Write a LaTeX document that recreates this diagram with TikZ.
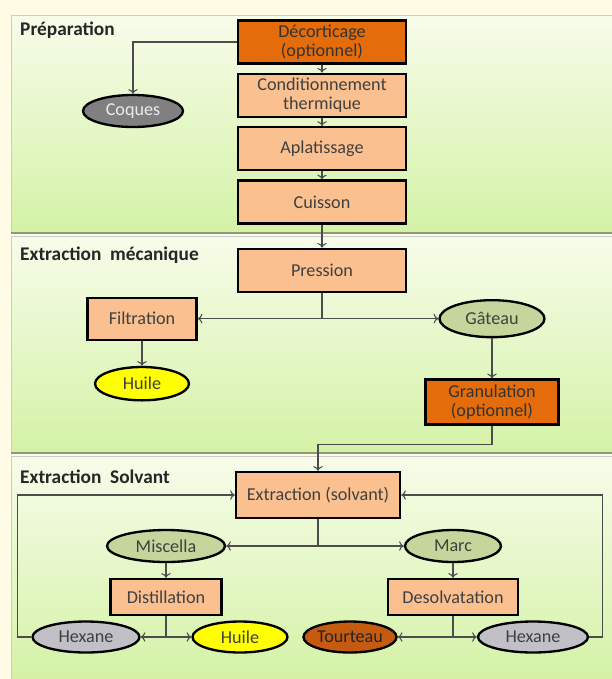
\documentclass[tikz,border=0pt]{standalone}
\usepackage{fontspec}
\setmainfont{Carlito}
\usetikzlibrary{shapes.geometric, arrows.meta}
\definecolor{peach}{RGB}{250,192,144}
\definecolor{darkorange}{RGB}{228,108,10}
\definecolor{coqgray}{RGB}{128,128,128}
\definecolor{hexgray}{RGB}{192,192,198}
\definecolor{olive}{RGB}{196,214,155}
\definecolor{oilyellow}{RGB}{255,255,0}
\definecolor{cakebrown}{RGB}{197,90,17}
\definecolor{cream}{RGB}{255,251,229}
\definecolor{paneltop}{RGB}{247,252,234}
\definecolor{panelbot}{RGB}{212,242,166}
\definecolor{panelline}{RGB}{140,155,115}
\definecolor{txt}{RGB}{64,64,64}
\tikzstyle{procbox} = [rectangle, minimum width=5.04cm, minimum height=1.29cm, text centered, align=center, inner sep=1pt, draw=black, line width=2pt, fill=peach, text=txt, font=\fontsize{15.5}{16}\selectfont]
\tikzstyle{optbox} = [procbox, fill=darkorange, text=black!80]
\tikzstyle{product} = [ellipse, inner sep=0pt, minimum height=0.96cm, text centered, draw=black, line width=2pt, fill=olive, text=txt, font=\fontsize{15.5}{16}\selectfont]
\tikzstyle{title} = [anchor=west, inner sep=0pt, text=black!85, font=\fontsize{16.5}{18}\bfseries\selectfont]
\tikzstyle{panel} = [top color=paneltop, bottom color=panelbot, draw=gray!40]
\tikzstyle{arrow} = [draw=black!70, line width=0.9pt, -{To[length=4pt,width=8pt]}]

\begin{document}
\begin{tikzpicture}[node distance=1.6cm]

\fill[cream] (0,0) rectangle (18.36,-20.37);
\useasboundingbox (0,0) rectangle (18.36,-20.37);

% panels
\path[panel] (0.33,-0.45) rectangle (18.4,-6.99);
\path[panel] (0.33,-7.1) rectangle (18.4,-13.59);
\path[panel] (0.33,-13.68) rectangle (18.4,-20.45);
\draw[panelline, line width=1.2pt] (0.33,-6.99) -- (18.36,-6.99);
\draw[panelline, line width=1.2pt] (0.33,-13.59) -- (18.36,-13.59);

\node (title1) [title] at (0.6,-0.9) {Préparation};
\node (title2) [title] at (0.6,-7.65) {Extraction\ \ mécanique};
\node (title3) [title] at (0.6,-14.31) {Extraction\ \ Solvant};

% preparation
\node (decort) [optbox] at (9.66,-1.26) {Décorticage\\(optionnel)};
\node (condit) [procbox, below of=decort] {Conditionnement\\thermique};
\node (aplat) [procbox, below of=condit] {Aplatissage};
\node (cuis) [procbox, below of=aplat] {Cuisson};
\node (coques) [product, fill=coqgray, text=white!92!black, minimum width=3.0cm, left of=decort, xshift=-4.07cm, yshift=-2.07cm] {Coques};

% extraction mecanique
\node (pression) [procbox, below of=cuis, yshift=-0.45cm] {Pression};
\node (filtr) [procbox, minimum width=3.27cm, minimum height=1.26cm, left of=pression, xshift=-3.8cm, yshift=-1.45cm] {Filtration};
\node (gateau) [product, minimum width=3.15cm, minimum height=1.11cm, right of=pression, xshift=3.5cm, yshift=-1.45cm] {Gâteau};
\node (huile1) [product, fill=oilyellow, minimum width=2.82cm, minimum height=1.0cm, below of=filtr, yshift=-0.35cm] {Huile};
\node (granul) [optbox, minimum width=4.0cm, minimum height=1.35cm, below of=gateau, yshift=-0.9cm] {Granulation\\(optionnel)};

% extraction solvant
\node (extract) [procbox, minimum width=4.92cm, minimum height=1.38cm, below of=pression, xshift=-0.12cm, yshift=-5.14cm] {Extraction (solvant)};
\node (miscella) [product, minimum width=3.54cm, left of=extract, xshift=-2.96cm, yshift=-1.53cm] {Miscella};
\node (marc) [product, minimum width=2.88cm, right of=extract, xshift=2.45cm, yshift=-1.53cm] {Marc};
\node (distil) [procbox, minimum width=3.33cm, minimum height=1.08cm, below of=miscella, yshift=0.07cm] {Distillation};
\node (desolv) [procbox, minimum width=3.9cm, minimum height=1.08cm, below of=marc, yshift=0.07cm] {Desolvatation};
\node (hexane1) [product, fill=hexgray, minimum width=3.21cm, minimum height=0.93cm, below of=distil, xshift=-2.4cm, yshift=0.4cm] {Hexane};
\node (huile2) [product, fill=oilyellow, minimum width=2.85cm, minimum height=0.93cm, below of=distil, xshift=2.22cm, yshift=0.4cm] {Huile};
\node (tourteau) [product, fill=cakebrown, text=black!85, minimum width=2.7cm, minimum height=0.93cm, below of=desolv, xshift=-3.09cm, yshift=0.4cm] {Tourteau};
\node (hexane2) [product, fill=hexgray, minimum width=3.3cm, minimum height=0.93cm, below of=desolv, xshift=2.4cm, yshift=0.4cm] {Hexane};

\draw [arrow] (decort) -- (condit);
\draw [arrow] (condit) -- (aplat);
\draw [arrow] (aplat) -- (cuis);
\draw [arrow] (cuis) -- (pression);
\draw [arrow] (decort.west) -| (coques.north);

\draw [arrow] (pression.south) |- (filtr.east);
\draw [arrow] (pression.south) |- (gateau.west);
\draw [arrow] (filtr) -- (huile1);
\draw [arrow] (gateau) -- (granul);
\draw [arrow] (granul.south) -- ++(0,-0.57) -| (extract.north);

\draw [arrow] (extract.south) |- (miscella.east);
\draw [arrow] (extract.south) |- (marc.west);
\draw [arrow] (miscella) -- (distil);
\draw [arrow] (marc) -- (desolv);
\draw [arrow] (distil.south) |- (hexane1.east);
\draw [arrow] (distil.south) |- (huile2.west);
\draw [arrow] (desolv.south) |- (tourteau.east);
\draw [arrow] (desolv.south) |- (hexane2.west);
\draw [arrow] (hexane1.west) -- ++(-0.42,0) |- (extract.west);
\draw [arrow] (hexane2.east) -- ++(0.39,0) |- (extract.east);

\end{tikzpicture}
\end{document}
